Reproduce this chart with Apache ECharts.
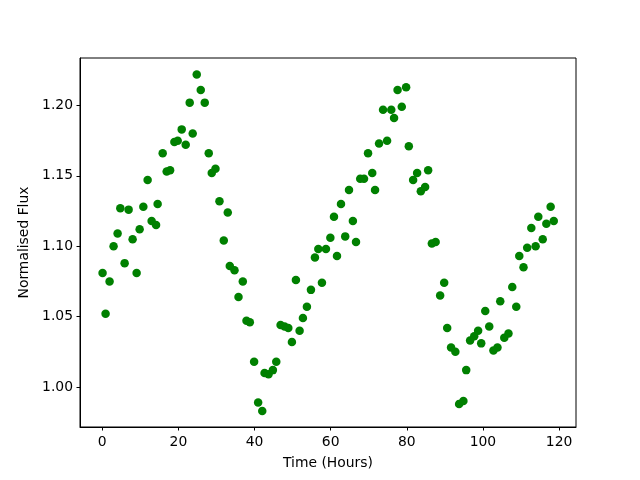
<!DOCTYPE html>
<html>
<head>
<meta charset="utf-8">
<script src="https://cdn.jsdelivr.net/npm/echarts@6/dist/echarts.min.js"></script>
<style>
html,body{margin:0;padding:0;background:#fff;}
#chart{width:640px;height:480px;}
</style>
</head>
<body>
<div id="chart"></div>
<script>
var hours = [0.08,0.87,1.92,2.97,4.03,4.74,5.87,6.92,7.97,9.03,9.82,10.79,11.92,12.97,14.13,14.55,15.87,16.92,17.82,18.95,
19.82,20.87,21.92,22.97,23.76,24.82,25.87,26.92,27.97,28.76,29.74,30.79,31.92,32.97,33.5,34.74,35.79,36.92,37.89,38.76,
39.89,40.95,42.03,42.63,43.68,44.82,45.71,46.84,47.89,48.87,49.82,50.87,51.84,52.71,53.76,54.82,55.87,56.76,57.71,58.76,
59.92,60.87,61.66,62.71,63.82,64.82,65.84,66.66,67.76,68.76,69.82,70.92,71.66,72.71,73.76,74.82,75.92,76.66,77.58,78.68,
79.82,80.53,81.66,82.71,83.68,84.82,85.61,86.58,87.58,88.76,89.82,90.61,91.63,92.76,93.74,94.87,95.61,96.63,97.71,98.74,
99.55,100.61,101.66,102.76,103.82,104.55,105.61,106.71,107.71,108.76,109.55,110.66,111.63,112.71,113.84,114.55,115.71,116.66,117.79,118.61];
var flux = [1.081,1.052,1.075,1.100,1.109,1.127,1.088,1.126,1.105,1.081,1.112,1.128,1.147,1.118,1.115,1.130,1.166,1.153,1.154,1.174,
1.175,1.183,1.172,1.202,1.180,1.222,1.211,1.202,1.166,1.152,1.155,1.132,1.104,1.124,1.086,1.083,1.064,1.075,1.047,1.046,
1.018,0.989,0.983,1.010,1.009,1.012,1.018,1.044,1.043,1.042,1.032,1.076,1.040,1.049,1.057,1.069,1.092,1.098,1.074,1.098,
1.106,1.121,1.093,1.130,1.107,1.140,1.118,1.103,1.148,1.148,1.166,1.152,1.140,1.173,1.197,1.175,1.197,1.191,1.211,1.199,
1.213,1.171,1.147,1.152,1.139,1.142,1.154,1.102,1.103,1.065,1.074,1.042,1.028,1.025,0.988,0.990,1.012,1.033,1.036,1.040,
1.031,1.054,1.043,1.026,1.028,1.061,1.035,1.038,1.071,1.057,1.093,1.085,1.099,1.113,1.100,1.121,1.105,1.116,1.128,1.118];
var xTicks = [0,20,40,60,80,100,120];
var yTicks = [1.00,1.05,1.10,1.15,1.20];

var points = hours.map(function(h,i){return [h, flux[i]];});
var font = 'DejaVu Sans';
var chart = echarts.init(document.getElementById('chart'), null, {renderer:'canvas'});
chart.setOption({
  animation:false,
  backgroundColor:'#ffffff',
  grid:{left:80,right:64,top:58,bottom:53,show:true,borderColor:'#000',borderWidth:1,backgroundColor:'transparent'},
  xAxis:{
    type:'value', min:-5.85, max:124.45,
    name:'Time (Hours)', nameLocation:'middle', nameGap:29,
    nameTextStyle:{fontFamily:font,fontSize:13.9,color:'#000'},
    axisLine:{show:true,onZero:false,lineStyle:{color:'#000',width:1}},
    axisTick:{show:true,inside:false,length:3.5,lineStyle:{color:'#000'},customValues:xTicks},
    axisLabel:{fontFamily:font,fontSize:13.9,color:'#000',margin:8,customValues:xTicks},
    splitLine:{show:false}
  },
  yAxis:{
    type:'value', min:0.9716, max:1.2337,
    name:'Normalised Flux', nameLocation:'middle', nameGap:45, nameRotate:90,
    nameTextStyle:{fontFamily:font,fontSize:13.9,color:'#000'},
    axisLine:{show:true,onZero:false,lineStyle:{color:'#000',width:1}},
    axisTick:{show:true,inside:false,length:3.5,lineStyle:{color:'#000'},customValues:yTicks},
    axisLabel:{fontFamily:font,fontSize:13.9,color:'#000',margin:7,customValues:yTicks,
      formatter:function(v){return v.toFixed(2);}},
    splitLine:{show:false}
  },
  series:[{
    type:'scatter', data:points, symbol:'circle', symbolSize:8.5,
    itemStyle:{color:'#008000',opacity:1}
  }]
});
</script>
</body>
</html>
